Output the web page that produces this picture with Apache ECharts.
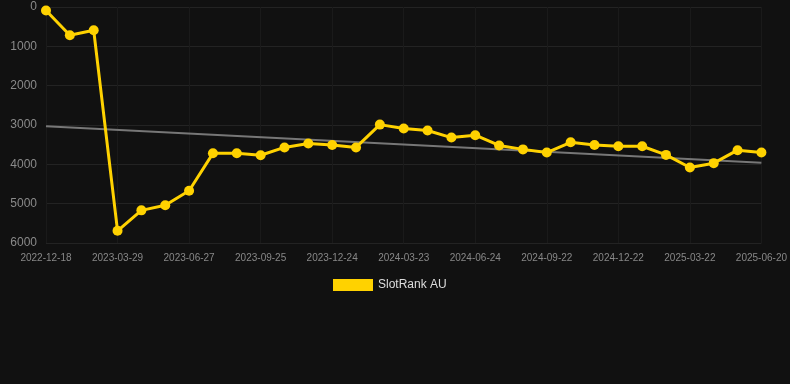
<!DOCTYPE html>
<html>
<head>
<meta charset="utf-8">
<script src="https://cdn.jsdelivr.net/npm/echarts@6/dist/echarts.min.js"></script>
<style>
html,body{margin:0;padding:0;background:#111111;}
#c{width:790px;height:384px;}
</style>
</head>
<body>
<div id="c"></div>
<script>
const dates = ["2022-12-18","2023-01-21","2023-02-24","2023-03-29","2023-04-29","2023-05-29","2023-06-27","2023-07-27","2023-08-26","2023-09-25","2023-10-25","2023-11-24","2023-12-24","2024-01-23","2024-02-22","2024-03-23","2024-04-24","2024-05-24","2024-06-24","2024-07-24","2024-08-23","2024-09-22","2024-10-22","2024-11-22","2024-12-22","2025-01-21","2025-02-20","2025-03-22","2025-04-21","2025-05-21","2025-06-20"];
const rankAU = [90,720,590,5690,5170,5040,4670,3720,3720,3770,3570,3470,3510,3570,2990,3090,3140,3320,3260,3520,3620,3700,3440,3510,3540,3540,3760,4080,3970,3640,3700];
const trendEnds = [3030,3960];
const yTicks = [0,1000,2000,3000,4000,5000,6000];

const trend = dates.map((d,i)=> i===0 ? trendEnds[0] : (i===dates.length-1 ? trendEnds[1] : null));

const chart = echarts.init(document.getElementById('c'));
chart.setOption({
  backgroundColor:'#111111',
  animation:false,
  grid:{left:46,right:28,top:7,bottom:141,containLabel:false},
  legend:{
    data:[{name:'SlotRank AU',icon:'rect'}],
    top:274,left:328,itemWidth:40,itemHeight:12,itemGap:10,
    textStyle:{color:'#dddddd',fontSize:12,fontFamily:'Arial, Liberation Sans, sans-serif'}
  },
  xAxis:{
    type:'category',data:dates,boundaryGap:false,
    axisLine:{show:false},axisTick:{show:false},
    axisLabel:{color:'#888888',fontSize:10,interval:2,margin:10,fontFamily:'Arial, Liberation Sans, sans-serif'},
    splitLine:{show:true,interval:2,lineStyle:{color:'#1a1a1a',width:1}}
  },
  yAxis:{
    type:'value',inverse:true,min:yTicks[0],max:yTicks[yTicks.length-1],interval:1000,
    axisLine:{show:false},axisTick:{show:false},
    axisLabel:{color:'#8a8a8a',fontSize:12,margin:9,formatter:v=>String(v),fontFamily:'Arial, Liberation Sans, sans-serif'},
    splitLine:{lineStyle:{color:'#232323',width:1}}
  },
  series:[
    {
      name:'trend',type:'line',data:trend,connectNulls:true,
      symbol:'none',lineStyle:{color:'#777777',width:2},z:1,silent:true
    },
    {
      name:'SlotRank AU',type:'line',data:rankAU,
      symbol:'circle',symbolSize:10,
      itemStyle:{color:'#ffd200'},
      lineStyle:{color:'#ffd200',width:3},z:2
    }
  ]
});
</script>
</body>
</html>
